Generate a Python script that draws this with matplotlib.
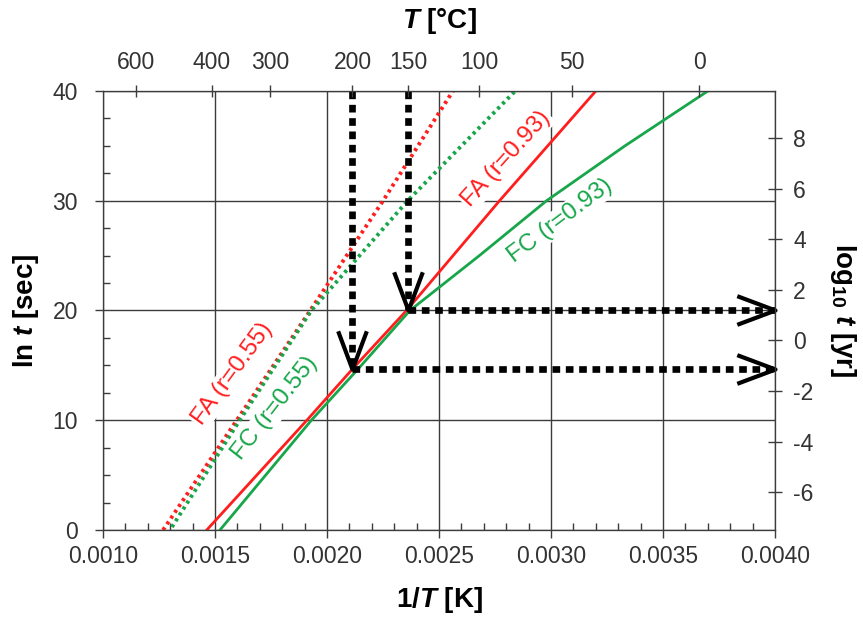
import math
import matplotlib
matplotlib.use('Agg')
import matplotlib.pyplot as plt
from matplotlib.path import Path
from matplotlib.ticker import MultipleLocator, FormatStrFormatter

plt.rcParams['font.family'] = ['Liberation Sans', 'DejaVu Sans']
plt.rcParams['mathtext.fontset'] = 'custom'
plt.rcParams['mathtext.rm'] = 'Liberation Sans'
plt.rcParams['mathtext.it'] = 'Liberation Sans:italic'
plt.rcParams['mathtext.bf'] = 'Liberation Sans:bold'
plt.rcParams['mathtext.bfit'] = 'Liberation Sans:bold:italic'
plt.rcParams['axes.unicode_minus'] = False

# curves: 1/T [1/K] vs ln t [sec]
fa93_x = [0.001463, 0.00191, 0.002115, 0.002355, 0.00277, 0.0032]
fa93_y = [0, 10, 14.7, 20, 30, 40]
fc93_x = [0.001522, 0.00193, 0.00214, 0.00237, 0.00268, 0.00298, 0.00333, 0.0037]
fc93_y = [0, 10, 14.7, 20, 25, 30, 35, 40]
fa55_x = [0.001268, 0.001597, 0.001925, 0.00225, 0.002562]
fa55_y = [0, 10, 20, 30, 40]
fc55_x = [0.001299, 0.00161, 0.00193, 0.00236, 0.00284]
fc55_y = [0, 10, 20, 30, 40]

# read-off arrows: temperature [C] and ln t where they meet the FA curve
arrow_T = [200, 150]
arrow_lnt = [14.7, 20.0]

# secondary axes
top_T = [600, 400, 300, 200, 150, 100, 50, 0]
right_ticks = [-6, -4, -2, 0, 2, 4, 6, 8]

RED = '#ff1e1e'
GREEN = '#17a64a'
GRID = '#3c3c3c'
TXT = '#333333'

XMIN, XMAX = 0.0010, 0.0040
YMIN, YMAX = 0, 40
SEC_PER_YR = 3.15576e7


def ln_sec_to_log_yr(v):
    # ln t [sec] -> log10 t [yr]
    return v / math.log(10) - math.log10(SEC_PER_YR)


fig = plt.figure(figsize=(8.63, 6.18), dpi=100)
ax = fig.add_axes([0.1194, 0.1424, 0.7787, 0.7104])

# curves
ax.plot(fa55_x, fa55_y, color=RED, lw=2.8, ls=(0, (0.8, 1.0)), zorder=3)
ax.plot(fc55_x, fc55_y, color=GREEN, lw=2.8, ls=(0.9, (0.8, 1.0)), zorder=3)
ax.plot(fa93_x, fa93_y, color=RED, lw=2.0, zorder=3)
ax.plot(fc93_x, fc93_y, color=GREEN, lw=2.0, zorder=3)

# dotted arrows
dots = dict(color='k', lw=4.8, ls=(0, (1.15, 0.85)), dash_capstyle='butt', zorder=4)
v_head = Path([(-0.45, 1.2), (0, 0), (0.45, 1.2)], [Path.MOVETO, Path.LINETO, Path.LINETO])
h_head = Path([(-1.2, 0.45), (0, 0), (-1.2, -0.45)], [Path.MOVETO, Path.LINETO, Path.LINETO])
for T, lt in zip(arrow_T, arrow_lnt):
    x = 1.0 / (T + 273.15)
    ax.plot([x, x], [YMAX, lt], **dots)
    ax.plot([x, XMAX], [lt, lt], **dots)
    ax.plot(x, lt, marker=v_head, ms=55, mfc='none', mec='k', mew=3.0, ls='none', zorder=5)
    ax.plot(XMAX, lt, marker=h_head, ms=55, mfc='none', mec='k', mew=3.0, ls='none',
            zorder=5, clip_on=False)

# curve labels
lab = dict(fontsize=17.5, ha='center', va='center', rotation_mode='anchor', zorder=2,
           bbox=dict(facecolor='white', edgecolor='none', pad=1.0))
ax.text(0.00280, 33.8, 'FA (r=0.93)', color=RED, rotation=48, **lab)
ax.text(0.00304, 28.2, 'FC (r=0.93)', color=GREEN, rotation=37, **lab)
ax.text(0.001578, 14.2, 'FA (r=0.55)', color=RED, rotation=54, **lab)
ax.text(0.001768, 11.1, 'FC (r=0.55)', color=GREEN, rotation=52, **lab)

# main axes
ax.set_xlim(XMIN, XMAX)
ax.set_ylim(YMIN, YMAX)
ax.set_xticks([0.0010, 0.0015, 0.0020, 0.0025, 0.0030, 0.0035, 0.0040])
ax.xaxis.set_major_formatter(FormatStrFormatter('%.4f'))
ax.xaxis.set_minor_locator(MultipleLocator(0.0001))
ax.set_yticks([0, 10, 20, 30, 40])
ax.yaxis.set_minor_locator(MultipleLocator(2.5))
ax.set_axisbelow(True)
ax.grid(True, which='major', color=GRID, lw=1.0)
ax.tick_params(which='major', direction='out', length=6, width=1, color=GRID,
               labelsize=16.5, labelcolor=TXT, top=False, right=False)
ax.tick_params(which='minor', direction='in', length=5, width=1, color=GRID, top=False, right=False)
ax.tick_params(axis='x', pad=5)
ax.tick_params(axis='y', pad=12)
for s in ax.spines.values():
    s.set_color(GRID)
ax.set_xlabel(r'1/$\mathbfit{T}$ [K]', fontsize=20, fontweight='bold', labelpad=12)
ax.set_ylabel(r'ln $\mathbfit{t}$ [sec]', fontsize=20, fontweight='bold', labelpad=8)

# top axis: temperature in C
ax_t = ax.twiny()
ax_t.set_xlim(XMIN, XMAX)
ax_t.set_xticks([1.0 / (T + 273.15) for T in top_T])
ax_t.set_xticklabels([str(T) for T in top_T])
ax_t.tick_params(direction='inout', length=9, width=1, color=GRID, labelsize=16.5,
                 labelcolor=TXT, pad=8)
ax_t.set_xlabel(r'$\mathbfit{T}$ [°C]', fontsize=20, fontweight='bold', labelpad=16)

# right axis: log10 t in years
ax_r = ax.twinx()
ax_r.set_ylim(ln_sec_to_log_yr(YMIN), ln_sec_to_log_yr(YMAX))
ax_r.set_yticks(right_ticks)
ax_r.tick_params(direction='inout', length=10, width=1, color=GRID, labelsize=16.5,
                 labelcolor=TXT, pad=8)
ax_r.set_ylabel(r'$\mathbf{log}_{\mathbf{10}}\ \mathbfit{t}$ [yr]', fontsize=20,
                fontweight='bold', rotation=270, labelpad=32)
for a in (ax_t, ax_r):
    for s in a.spines.values():
        s.set_color(GRID)

fig.savefig('out.png', dpi=100)
